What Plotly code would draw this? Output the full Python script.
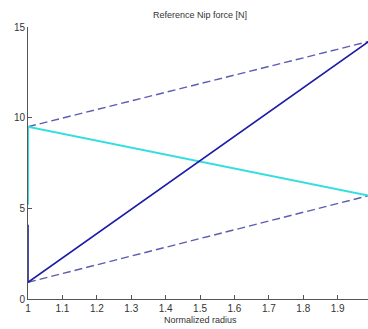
import plotly.graph_objects as go

# Data
solid_x = [1.0, 1.0, 1.99]
solid_y = [4.1, 0.92, 14.2]
cyan_x = [1.0, 1.0, 1.99]
cyan_y = [5.2, 9.5, 5.7]
upper_dash_x = [1.0, 1.99]
upper_dash_y = [9.5, 14.2]
lower_dash_x = [1.0, 1.99]
lower_dash_y = [0.92, 5.7]

xticks = [1, 1.1, 1.2, 1.3, 1.4, 1.5, 1.6, 1.7, 1.8, 1.9]
yticks = [0, 5, 10, 15]

fig = go.Figure()
fig.add_trace(go.Scatter(x=upper_dash_x, y=upper_dash_y, mode="lines",
                         line=dict(color="#5c5cb0", width=1.4, dash="8px,4px")))
fig.add_trace(go.Scatter(x=lower_dash_x, y=lower_dash_y, mode="lines",
                         line=dict(color="#5c5cb0", width=1.4, dash="8px,4px")))
fig.add_trace(go.Scatter(x=cyan_x, y=cyan_y, mode="lines",
                         line=dict(color="#33dede", width=2)))
fig.add_trace(go.Scatter(x=solid_x, y=solid_y, mode="lines",
                         line=dict(color="#1c1ca8", width=1.6)))

fig.update_layout(
    width=368, height=329,
    margin=dict(l=28, r=0, t=27, b=30),
    paper_bgcolor="white", plot_bgcolor="white",
    showlegend=False,
    font=dict(family="Liberation Sans, Arial, sans-serif", size=10, color="#333"),
    annotations=[dict(text="Reference Nip force [N]", x=1.5, xref="x", y=1.044, yref="paper",
                      yanchor="middle", showarrow=False, font=dict(size=9, color="#333")),
                 dict(text="Normalized radius", x=1.5, xref="x", y=-0.077, yref="paper",
                      yanchor="middle", showarrow=False, font=dict(size=9, color="#333"))],
)
fig.update_xaxes(range=[1, 1.988], tickvals=xticks, ticktext=[str(t) for t in xticks],
                 ticks="inside", ticklen=4, tickcolor="#555", showline=True, linecolor="#555",
                 linewidth=1, showgrid=False, zeroline=False, mirror=False)
fig.update_yaxes(range=[0, 15], tickvals=yticks, ticks="inside", ticklen=4, tickcolor="#555",
                 showline=True, linecolor="#555", linewidth=1, showgrid=False, zeroline=False)
fig.write_html("out.html")
